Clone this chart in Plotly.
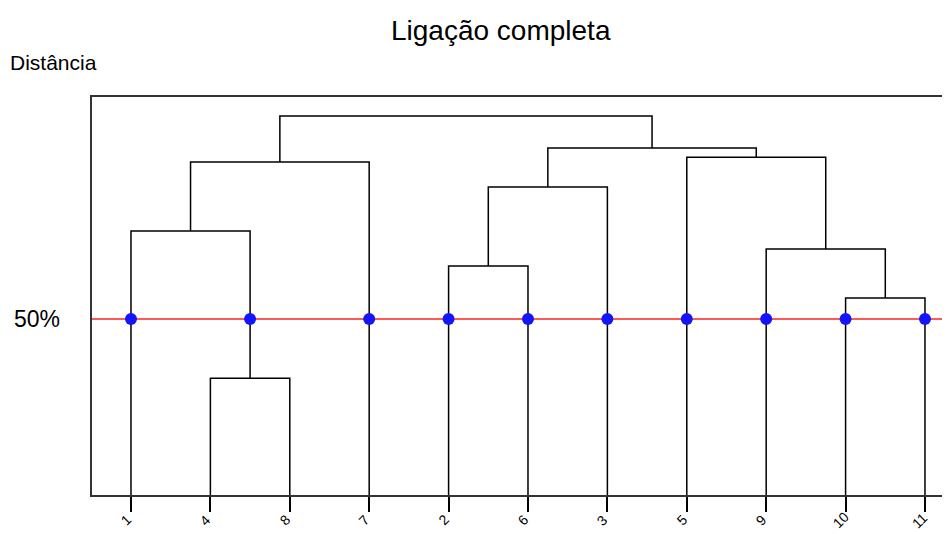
import plotly.graph_objects as go

# Leaf labels in dendrogram order
leaf_labels = ["1", "4", "8", "7", "2", "6", "3", "5", "9", "10", "11"]

# Merges: (left child, right child, linkage distance); children are leaf labels or earlier merge ids "m0", "m1", ...
merge_left = ["4", "1", "m1", "2", "m3", "10", "9", "5", "m4", "m2"]
merge_right = ["8", "m0", "7", "6", "3", "11", "m5", "m6", "m7", "m8"]
merge_height = [33.2, 75.0, 94.6, 65.1, 87.5, 56.0, 69.9, 96.0, 98.6, 107.7]

cut_level = 50.0
cut_label = "50%"
y_max = 113.1

pos = {lab: float(i) for i, lab in enumerate(leaf_labels)}
hgt = {lab: 0.0 for lab in leaf_labels}

fig = go.Figure()
seg_x, seg_y = [], []
verticals = []
for k, (a, b, h) in enumerate(zip(merge_left, merge_right, merge_height)):
    xa, xb = pos[a], pos[b]
    ya, yb = hgt[a], hgt[b]
    seg_x += [xa, xa, xb, xb, None]
    seg_y += [ya, h, h, yb, None]
    verticals.append((xa, ya, h))
    verticals.append((xb, yb, h))
    mid = f"m{k}"
    pos[mid] = (xa + xb) / 2
    hgt[mid] = h

fig.add_trace(go.Scatter(x=seg_x, y=seg_y, mode="lines",
                         line=dict(color="black", width=1.5),
                         hoverinfo="skip", showlegend=False))

xmin, xmax = -0.491, 10.315
fig.add_trace(go.Scatter(x=[xmin, xmax], y=[cut_level, cut_level], mode="lines",
                         line=dict(color="#ff2020", width=1.5),
                         hoverinfo="skip", showlegend=False))

dot_x = sorted(x for x, y0, y1 in verticals if y0 < cut_level < y1)
fig.add_trace(go.Scatter(x=dot_x, y=[cut_level] * len(dot_x), mode="markers",
                         marker=dict(color="#1414ff", size=12, line=dict(width=0)),
                         hoverinfo="skip", showlegend=False))

W, H = 942, 526  # page body has an 8px margin
L, T, B = 84, 89, 39
PW = W - L

annotations = [
    dict(text="Ligação completa", xref="paper", yref="paper",
         x=(493 - L) / PW, y=1, yshift=67, xanchor="center", yanchor="middle",
         showarrow=False, font=dict(size=28)),
    dict(text="Distância", xref="paper", yref="paper",
         x=-L / PW, xshift=0, y=1, yshift=35, xanchor="left", yanchor="middle",
         showarrow=False, font=dict(size=21)),
    dict(text=cut_label, xref="paper", yref="y",
         x=-L / PW, xshift=4, y=cut_level, xanchor="left", yanchor="middle",
         showarrow=False, font=dict(size=23)),
]
for i, lab in enumerate(leaf_labels):
    annotations.append(dict(text=lab, xref="x", yref="y", x=i, y=0,
                            xshift=-5, yshift=-25, textangle=-45,
                            xanchor="center", yanchor="middle",
                            showarrow=False, font=dict(size=14)))

fig.update_layout(
    width=W, height=H,
    margin=dict(l=L, r=0, t=T, b=B, pad=0, autoexpand=False),
    paper_bgcolor="white", plot_bgcolor="white",
    font=dict(family="Liberation Sans, Arial, sans-serif", color="black"),
    xaxis=dict(range=[xmin, xmax], tickmode="array",
               tickvals=list(range(len(leaf_labels))), ticktext=leaf_labels,
               showticklabels=False,
               ticks="outside", ticklen=15, tickwidth=1.5, tickcolor="black",
               automargin=False,
               showline=True, linecolor="#333333", linewidth=2, mirror=True,
               showgrid=False, zeroline=False, fixedrange=True),
    yaxis=dict(range=[0, y_max], showticklabels=False, ticks="", automargin=False,
               showline=True, linecolor="#333333", linewidth=2, mirror=False,
               showgrid=False, zeroline=False, fixedrange=True),
    annotations=annotations,
)

fig.write_html("out.html")
